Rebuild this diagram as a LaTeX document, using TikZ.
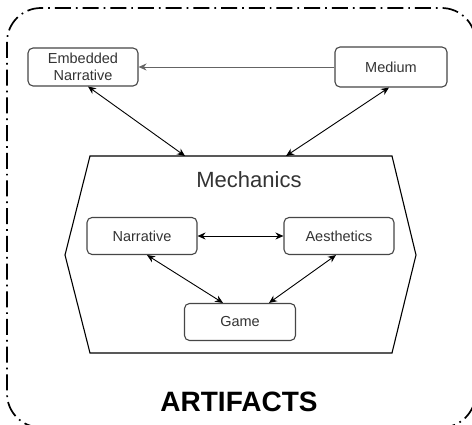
\documentclass[tikz,border=0pt]{standalone}
\usepackage{fontspec}
\setmainfont{Liberation Sans}
\usetikzlibrary{arrows.meta}
\begin{document}
\begin{tikzpicture}[
	x=1pt, y=-1pt,
	box/.style={draw=boxgray, line width=1.1pt, rounded corners=5pt, fill=white,
		minimum width=110pt, minimum height=37pt, inner sep=0pt, align=center,
		text=textgray, font=\fontsize{14.5}{17}\selectfont},
	link/.style={line width=0.9pt, {Stealth[length=8pt,width=7pt]}-{Stealth[length=8pt,width=7pt]}},
	onelink/.style={line width=0.9pt, draw=linegray, -{Stealth[length=8pt,width=7pt]}},
	frame/.style={line width=1.7pt, dash pattern=on 16pt off 5pt on 1.7pt off 5pt}
	]
	\definecolor{boxgray}{RGB}{70, 70, 70}
	\definecolor{textgray}{RGB}{51, 51, 51}
	\definecolor{linegray}{RGB}{100, 100, 100}
	\useasboundingbox (0, 0) rectangle (472, 425);

	% outer frame
	\draw [frame, rounded corners=34pt] (7, 8) rectangle (475.5, 427.5);

	% mechanics hexagon
	\draw [line width=1.1pt] (90, 156) -- (392, 156) -- (416, 255) -- (392, 353)
		-- (90, 353) -- (65, 255) -- cycle;
	\node [text=textgray, font=\fontsize{22}{26}\selectfont] (mech) at (249, 180) {Mechanics};
	\coordinate (mechL) at (185, 156);
	\coordinate (mechR) at (286, 156);

	% outer boxes
	\node [box, minimum height=38pt] (emb) at (83, 67) {Embedded\\Narrative};
	\node [box, minimum width=112pt, minimum height=40pt] (med) at (391, 67) {Medium};

	% inner boxes
	\node [box] (narr) at (142, 236) {Narrative};
	\node [box] (aes) at (339, 236) {Aesthetics};
	\node [box, minimum width=111pt] (game) at (240, 322) {Game};

	% connectors
	\draw [onelink] (med) -- (emb);
	\draw [link] ([xshift=5pt]emb.south) -- (mechL);
	\draw [link] ([xshift=-2pt]med.south) -- (mechR);
	\draw [link] (narr) -- (aes);
	\draw [link] ([xshift=5pt]narr.south) -- ([xshift=-17pt]game.north);
	\draw [link] ([xshift=-3pt]aes.south) -- ([xshift=29pt]game.north);

	% title
	\node [font=\fontsize{28}{32}\selectfont\bfseries] (title) at (239, 402) {ARTIFACTS};
\end{tikzpicture}
\end{document}
